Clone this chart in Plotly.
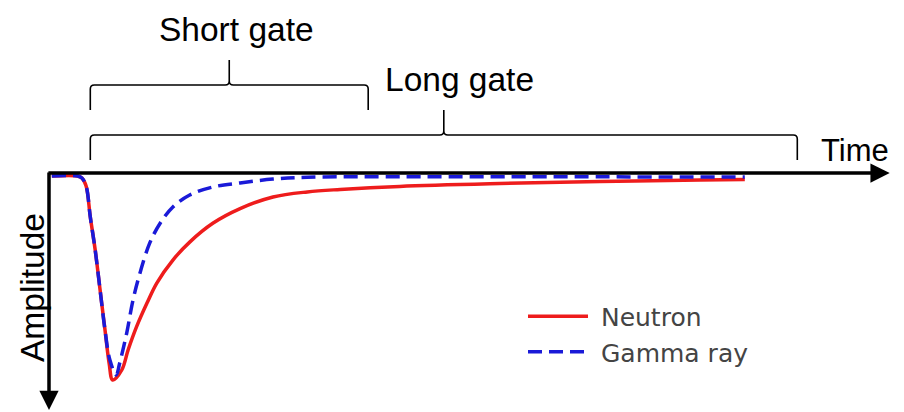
import plotly.graph_objects as go

W, H = 904, 412

# Pulse shapes: time in ns, amplitude normalised to the neutron peak
t_neutron = [0.4, 4.1, 4.7, 5.3, 5.9, 6.6, 7.3, 8.0, 8.6, 9.1, 10.4, 11.3, 12.5,
             14.0, 15.4, 17.7, 20.1, 23.4, 27.3, 32.0, 36.9, 41.6, 50.1, 64.4,
             78.7, 93.0, 99.4]
a_neutron = [0.0, 0.0, -0.010, -0.049, -0.201, -0.363, -0.559, -0.755, -0.920,
             -1.000, -0.951, -0.853, -0.740, -0.623, -0.525, -0.412, -0.324,
             -0.232, -0.160, -0.103, -0.078, -0.066, -0.051, -0.037, -0.027,
             -0.020, -0.017]

t_gamma = [0.4, 4.1, 4.7, 5.3, 5.9, 6.6, 7.3, 8.0, 8.7, 9.6, 10.1, 11.1, 12.0,
           13.0, 14.4, 15.9, 17.7, 20.1, 23.4, 27.3, 32.0, 36.9, 50.1, 99.4]
a_gamma = [0.0, 0.0, -0.010, -0.049, -0.201, -0.363, -0.559, -0.755, -0.902,
           -0.975, -0.917, -0.770, -0.608, -0.475, -0.328, -0.230, -0.152,
           -0.093, -0.054, -0.034, -0.015, -0.006, -0.004, -0.005]

# Integration gates (ns)
gate_names = ["Short gate", "Long gate"]
gate_start = [5.9, 5.9]
gate_end = [45.6, 106.9]

# Axis extents (ns / amplitude units)
time_axis_end = 120.1
amp_axis_end = -1.147

# ---- layout helpers (pixel -> paper) ----
def px(x):
    return x / W


def py(y):
    return 1 - y / H


X_RANGE = [-7.0, (W - 49) / 7.0]
Y_RANGE = [(176 - H) / 204.0, 176 / 204.0]

LABEL_FONT = dict(family="Liberation Sans, Arial, sans-serif", size=33.5, color="black")

fig = go.Figure()

fig.add_trace(go.Scatter(
    x=t_neutron, y=a_neutron, mode="lines", name="\u00a0Neutron",
    line=dict(color="#ee1c1c", width=3.5, shape="spline", smoothing=1.0),
))
fig.add_trace(go.Scatter(
    x=t_gamma, y=a_gamma, mode="lines", name="\u00a0Gamma ray",
    line=dict(color="#1a1ad8", width=3.5, dash="14px,7px", shape="spline", smoothing=1.0),
))

# Curly braces marking the gates
brace_level = [85, 135]   # pixel row of the brace bar
brace_depth = 25          # pixel length of the end hooks and the centre tip
rx = 4 / 7.0              # corner radius in ns
ry = 4 / H                # corner radius in paper units
label_shift = [7, 16]
label_row = [30, 79]

shapes = []
annotations = []
for name, t0, t1, lvl, sh, row in zip(gate_names, gate_start, gate_end,
                                      brace_level, label_shift, label_row):
    tm = (t0 + t1) / 2
    yh = py(lvl)
    d = brace_depth / H
    path = (
        f"M{t0},{yh - d} L{t0},{yh - ry} Q{t0},{yh} {t0 + rx},{yh} "
        f"L{tm - rx},{yh} Q{tm},{yh} {tm},{yh + ry} L{tm},{yh + d} "
        f"M{tm},{yh + ry} Q{tm},{yh} {tm + rx},{yh} "
        f"L{t1 - rx},{yh} Q{t1},{yh} {t1},{yh - ry} L{t1},{yh - d}"
    )
    shapes.append(dict(type="path", path=path, xref="x", yref="paper",
                       line=dict(color="black", width=1.6)))
    annotations.append(dict(text=name, x=tm, xref="x", xshift=sh,
                            y=py(row), yref="paper", xanchor="center",
                            yanchor="middle", showarrow=False, font=LABEL_FONT))

# Axis arrows
annotations.append(dict(
    x=time_axis_end, y=0.0147, ax=-0.3, ay=0.0147, xref="x", yref="y",
    axref="x", ayref="y", text="", showarrow=True, arrowhead=2,
    arrowwidth=3.5, arrowsize=1.1, arrowcolor="black",
))
annotations.append(dict(
    x=0, y=amp_axis_end, ax=0, ay=0.025, xref="x", yref="y",
    axref="x", ayref="y", text="", showarrow=True, arrowhead=2,
    arrowwidth=3.5, arrowsize=1.1, arrowcolor="black",
))

annotations.append(dict(text="Time", x=px(855), y=py(151), xref="paper", yref="paper",
                        xanchor="center", yanchor="middle",
                        showarrow=False, font=dict(LABEL_FONT, size=31)))
annotations.append(dict(text="Amplitude", x=px(32), y=py(288), xref="paper", yref="paper",
                        xanchor="center", yanchor="middle",
                        textangle=-90, showarrow=False, font=LABEL_FONT))

fig.update_layout(
    width=W, height=H, autosize=False,
    margin=dict(l=0, r=0, t=0, b=0, pad=0),
    paper_bgcolor="white", plot_bgcolor="white",
    xaxis=dict(range=X_RANGE, visible=False, fixedrange=True),
    yaxis=dict(range=Y_RANGE, visible=False, fixedrange=True),
    shapes=shapes,
    annotations=annotations,
    showlegend=True,
    legend=dict(
        x=px(523), y=py(293.5), xanchor="left", yanchor="top",
        font=dict(family="DejaVu Sans", size=25, color="#444"),
        bgcolor="rgba(0,0,0,0)", itemwidth=60, tracegroupgap=0,
    ),
)

fig.write_html("out.html", config={"displayModeBar": False})
